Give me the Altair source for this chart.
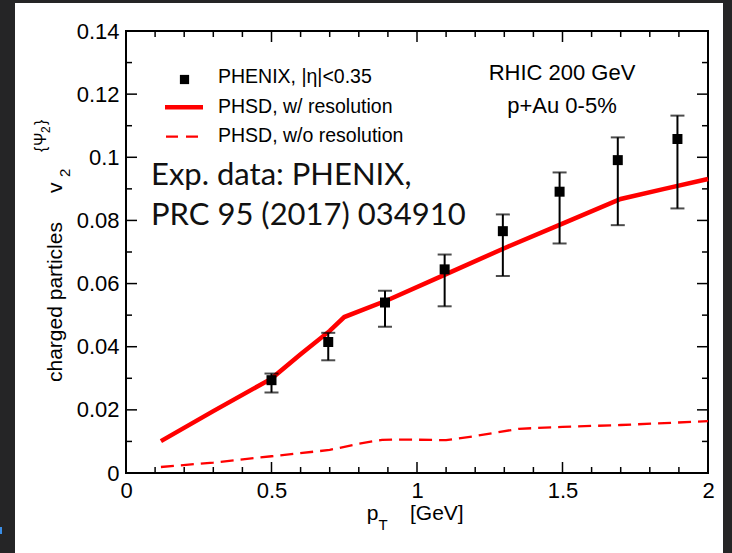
import altair as alt
import pandas as pd

# ---------------- data ----------------
pt_data = [0.5, 0.695, 0.89, 1.095, 1.295, 1.49, 1.69, 1.895]
v2_data = [0.0294, 0.0415, 0.0540, 0.0645, 0.0766, 0.0891, 0.0991, 0.1058]
v2_hi = [0.0315, 0.0444, 0.0577, 0.0692, 0.0819, 0.0952, 0.1063, 0.1132]
v2_lo = [0.0255, 0.0357, 0.0463, 0.0528, 0.0624, 0.0727, 0.0785, 0.0838]

pt_res = [0.12, 0.3, 0.5, 0.6, 0.7, 0.75, 0.9, 1.1, 1.3, 1.5, 1.7, 1.85, 2.0]
v2_res = [0.0101, 0.0196, 0.0299, 0.0376, 0.0450, 0.0494, 0.0548, 0.0630, 0.0712,
          0.0790, 0.0868, 0.0900, 0.0931]

pt_nores = [0.12, 0.3, 0.5, 0.7, 0.8, 0.88, 0.95, 1.1, 1.2, 1.35, 1.5, 1.7, 1.85, 2.0]
v2_nores = [0.0019, 0.0033, 0.0053, 0.0073, 0.0093, 0.0105, 0.0106, 0.0104, 0.0117,
            0.0140, 0.0146, 0.0152, 0.0158, 0.0164]

x_major = [0, 0.5, 1, 1.5, 2]
x_minor = [0.1, 0.2, 0.3, 0.4, 0.6, 0.7, 0.8, 0.9, 1.1, 1.2, 1.3, 1.4, 1.6, 1.7, 1.8, 1.9]
y_major = [0, 0.02, 0.04, 0.06, 0.08, 0.1, 0.12, 0.14]
y_minor = [0.01, 0.03, 0.05, 0.07, 0.09, 0.11, 0.13]

legend_labels = ["PHENIX, |η|<0.35", "PHSD, w/ resolution", "PHSD, w/o resolution"]
system_labels = ["RHIC 200 GeV", "p+Au 0-5%"]
note_lines = ["Exp. data: PHENIX,", "PRC 95 (2017) 034910"]

# ---------------- layout ----------------
W, H = 582, 442
PL, PT = 126, 31
FONT = "Liberation Sans"
RED = "#ff0000"

xs = alt.Scale(domain=[0, 2], nice=False, zero=False)
ys = alt.Scale(domain=[0, 0.14], nice=False)

df_pts = pd.DataFrame({"pt": pt_data, "v2": v2_data, "hi": v2_hi, "lo": v2_lo})
df_res = pd.DataFrame({"pt": pt_res, "v2": v2_res})
df_nores = pd.DataFrame({"pt": pt_nores, "v2": v2_nores})
one = pd.DataFrame({"a": [0]})

xaxis = alt.Axis(values=x_major, format="~g", ticks=False, tickSize=0, domain=False, grid=False,
                 labelFont=FONT, labelFontSize=22, labelColor="black", labelPadding=7,
                 title=None, zindex=1, labelFlush=False)
yaxis = alt.Axis(values=y_major, format="~g", ticks=False, tickSize=0, domain=False, grid=False,
                 labelFont=FONT, labelFontSize=22, labelColor="black", labelPadding=7,
                 title=None, zindex=1)

def rect(x1, x2, y1, y2, color):
    return alt.Chart(one).mark_rect(color=color).encode(
        x=alt.value(x1), x2=alt.value(x2), y=alt.value(y1), y2=alt.value(y2))

# dark frame around the figure
dark = "#252526"
frame = (rect(-PL, -PL + 15, -PT, H + 80, dark)
         + rect(-PL, W + 24, -PT, -PT + 3, dark)
         + rect(W + 15, W + 24, -PT, H + 80, dark)
         + rect(-PL, -PL + 2, 496, 503, "#3a8ee6"))

# base with axes
base_axes = alt.Chart(df_res).mark_line(opacity=0).encode(
    x=alt.X("pt:Q", scale=xs, axis=xaxis),
    y=alt.Y("v2:Q", scale=ys, axis=yaxis),
)

# manual inward ticks
def xticks(vals, length):
    d = pd.DataFrame({"t": vals})
    b = alt.Chart(d).mark_rule(color="black", strokeWidth=1.5)
    bot = b.encode(x=alt.X("t:Q", scale=xs), y=alt.value(H), y2=alt.value(H - length))
    top = b.encode(x=alt.X("t:Q", scale=xs), y=alt.value(0), y2=alt.value(length))
    return bot + top

def yticks(vals, length):
    d = pd.DataFrame({"t": vals})
    b = alt.Chart(d).mark_rule(color="black", strokeWidth=1.5)
    left = b.encode(y=alt.Y("t:Q", scale=ys), x=alt.value(0), x2=alt.value(length))
    right = b.encode(y=alt.Y("t:Q", scale=ys), x=alt.value(W), x2=alt.value(W - length))
    return left + right

ticks = xticks(x_major, 11) + xticks(x_minor, 6) + yticks(y_major, 11) + yticks(y_minor, 6)

# curves
line_res = alt.Chart(df_res).mark_line(color=RED, strokeWidth=4.5).encode(
    x=alt.X("pt:Q", scale=xs), y=alt.Y("v2:Q", scale=ys))
line_nores = alt.Chart(df_nores).mark_line(color=RED, strokeWidth=2.3, strokeDash=[13, 7]).encode(
    x=alt.X("pt:Q", scale=xs), y=alt.Y("v2:Q", scale=ys))

# data points with error bars
err = alt.Chart(df_pts).mark_rule(color="black", strokeWidth=2).encode(
    x=alt.X("pt:Q", scale=xs), y=alt.Y("lo:Q", scale=ys), y2="hi:Q")
cap_hi = alt.Chart(df_pts).mark_tick(color="black", orient="horizontal", size=14, thickness=2).encode(
    x=alt.X("pt:Q", scale=xs), y=alt.Y("hi:Q", scale=ys))
cap_lo = alt.Chart(df_pts).mark_tick(color="black", orient="horizontal", size=14, thickness=2).encode(
    x=alt.X("pt:Q", scale=xs), y=alt.Y("lo:Q", scale=ys))
pts = alt.Chart(df_pts).mark_square(color="black", size=100, opacity=1).encode(
    x=alt.X("pt:Q", scale=xs), y=alt.Y("v2:Q", scale=ys))

def txt(s, x, y, size, font=FONT, align="left", angle=0, color="black", baseline="alphabetic"):
    kw = dict(font=font, fontSize=size, align=align, baseline=baseline, color=color)
    if angle:
        kw["angle"] = angle
    return alt.Chart(one).mark_text(**kw).encode(
        x=alt.value(x), y=alt.value(y), text=alt.value(s))

# legend
legend = (
    alt.Chart(one).mark_square(color="black", size=85, opacity=1).encode(
        x=alt.value(58.5), y=alt.value(48.5))
    + alt.Chart(one).mark_rule(color=RED, strokeWidth=4.5).encode(
        x=alt.value(39), x2=alt.value(77), y=alt.value(76.3))
    + alt.Chart(one).mark_rule(color=RED, strokeWidth=2.3, strokeDash=[12, 8]).encode(
        x=alt.value(40), x2=alt.value(74), y=alt.value(105.7))
    + txt(legend_labels[0], 92, 52, 19.5)
    + txt(legend_labels[1], 92, 82, 19.5)
    + txt(legend_labels[2], 92, 111, 19.5)
)

annot = (
    txt(system_labels[0], 436, 49, 22, align="center")
    + txt(system_labels[1], 436, 82, 22, align="center")
    + txt(note_lines[0], 25, 154, 31, font="Lato", color="#111111")
    + txt(note_lines[1], 25, 194, 31, font="Lato", color="#111111")
)

# axis titles
titles = (
    txt("p", 240.7, 489, 21)
    + txt("T", 252.5, 499, 15)
    + txt("[GeV]", 284, 489, 21)
    + txt("charged particles", -64, 351, 21, angle=270)
    + txt("v", -64, 162, 21, angle=270)
    + txt("2", -56, 146, 15, angle=270)
    + txt("{", -80, 121, 16, angle=270)
    + txt("Ψ", -80, 115, 16, angle=270)
    + txt("2", -76, 102, 12, angle=270)
    + txt("}", -80, 94, 16, angle=270)
)

chart = alt.layer(
    frame, base_axes, ticks, line_nores, line_res, err, cap_hi, cap_lo, pts, legend, annot, titles
).properties(
    width=W, height=H,
    autosize=alt.AutoSizeParams(type="none"),
    padding={"left": PL, "top": PT, "right": 732 - PL - W, "bottom": 553 - PT - H},
    background="white",
).configure_view(stroke="black", strokeWidth=2)

chart.save("out.html", embed_options={"renderer": "svg", "actions": False})
